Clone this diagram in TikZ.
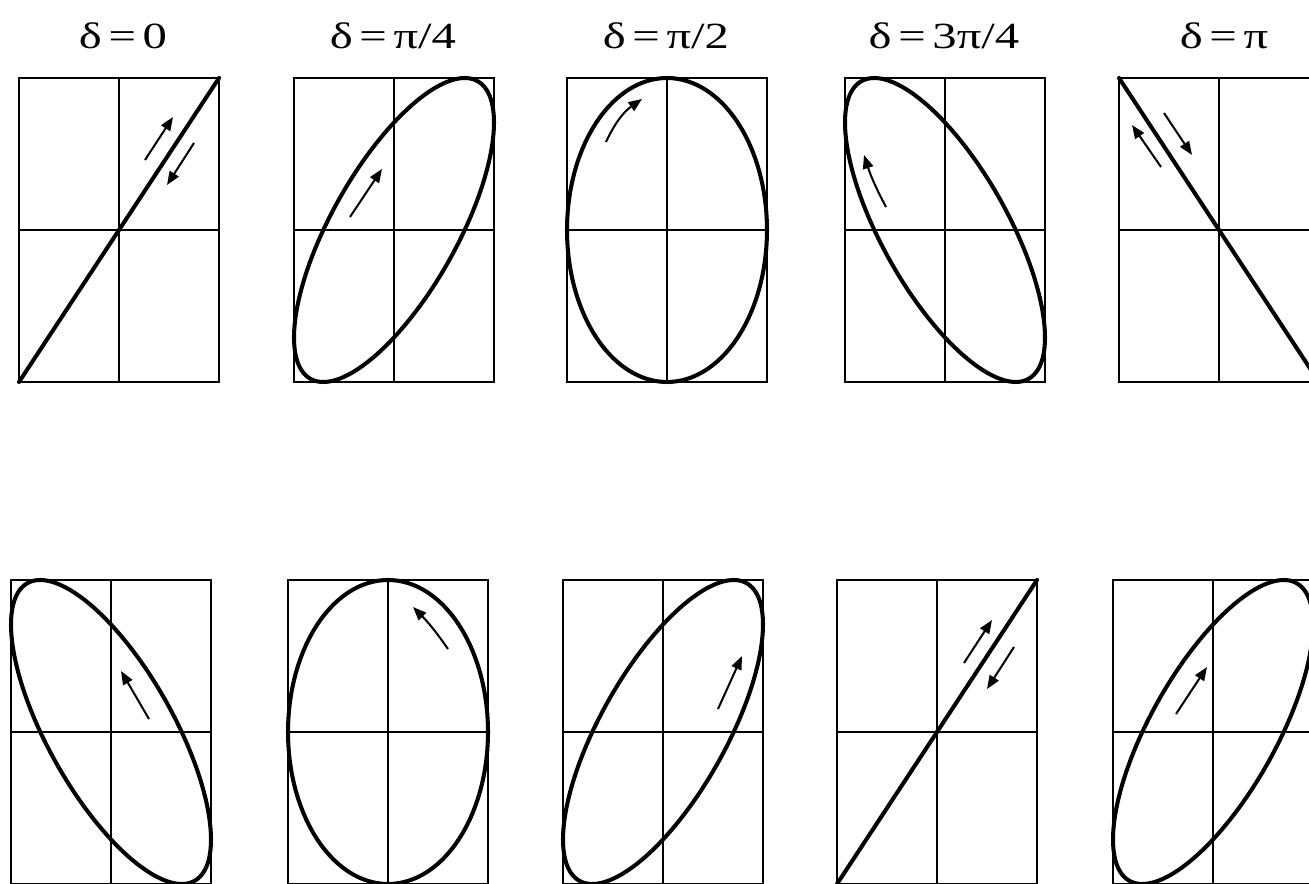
\documentclass[tikz,border=0pt]{standalone}
\usepackage{fontspec}
\setmainfont{Liberation Serif}
\newfontfamily\titlefont[FakeStretch=1.32]{Liberation Serif}
\usetikzlibrary{arrows.meta}

\newcommand{\eqsign}{\hspace{0.18em}=\hspace{0.18em}}

\begin{document}
\begin{tikzpicture}[
    x=0.02cm, y=0.02cm,
    frame/.style={line width=1.1pt},
    curve/.style={line width=2.3pt, line join=round},
    dir/.style={-{Triangle[length=0.27cm, width=0.21cm]}, line width=1.15pt},
    title/.style={font=\titlefont\fontsize{21}{25}\selectfont, anchor=base}
]
    \clip (0,0) rectangle (1309,883);

    % Panels: name / centre x / centre y / phase
    \foreach \n/\cx/\cy/\d in {p1/119/653/0, p2/394/653/45, p3/667/653/90, p4/945/653/135, p5/1219/653/180,
                              q1/111/151/225, q2/388/151/270, q3/663/151/315, q4/937/151/360, q5/1213/151/405}
    {
        \coordinate (\n) at (\cx,\cy);
        \draw[frame] (\cx-100,\cy-152) rectangle (\cx+100,\cy+152);
        \draw[frame] (\cx,\cy-152) -- (\cx,\cy+152);
        \draw[frame] (\cx-100,\cy) -- (\cx+100,\cy);
        \draw[curve] plot[domain=0:360, samples=145] ({\cx+100*sin(\x)}, {\cy+152*sin(\x+\d)});
    }

    % Titles
    \node[title] (t1) at (123,834) {δ\eqsign 0};
    \node[title] (t2) at (393,834) {δ\eqsign π/4};
    \node[title] (t3) at (666,834) {δ\eqsign π/2};
    \node[title] (t4) at (944,834) {δ\eqsign 3π/4};
    \node[title] (t5) at (1224,834) {δ\eqsign π};

    % Direction arrows, top row
    \draw[dir, shift={(p1)}] (26,70) -- (54,113);
    \draw[dir, shift={(p1)}] (75,87) -- (48,45);
    \draw[dir, shift={(p2)}] (-44,13) -- (-12,61);
    \draw[dir, shift={(p3)}] (-61,88) to[bend left=15] (-25,131);
    \draw[dir, shift={(p4)}] (-59,23) to[bend left=5] (-81,75);
    \draw[dir, shift={(p5)}] (-58,63) -- (-87,105);
    \draw[dir, shift={(p5)}] (-55,117) -- (-27,75);

    % Direction arrows, bottom row
    \draw[dir, shift={(q1)}] (38,13) -- (10,61);
    \draw[dir, shift={(q2)}] (60,83) to[bend right=5] (25,125);
    \draw[dir, shift={(q3)}] (55,23) -- (79,76);
    \draw[dir, shift={(q4)}] (27,69) -- (55,112);
    \draw[dir, shift={(q4)}] (77,85) -- (50,43);
    \draw[dir, shift={(q5)}] (-37,18) -- (-6,65);
\end{tikzpicture}
\end{document}
